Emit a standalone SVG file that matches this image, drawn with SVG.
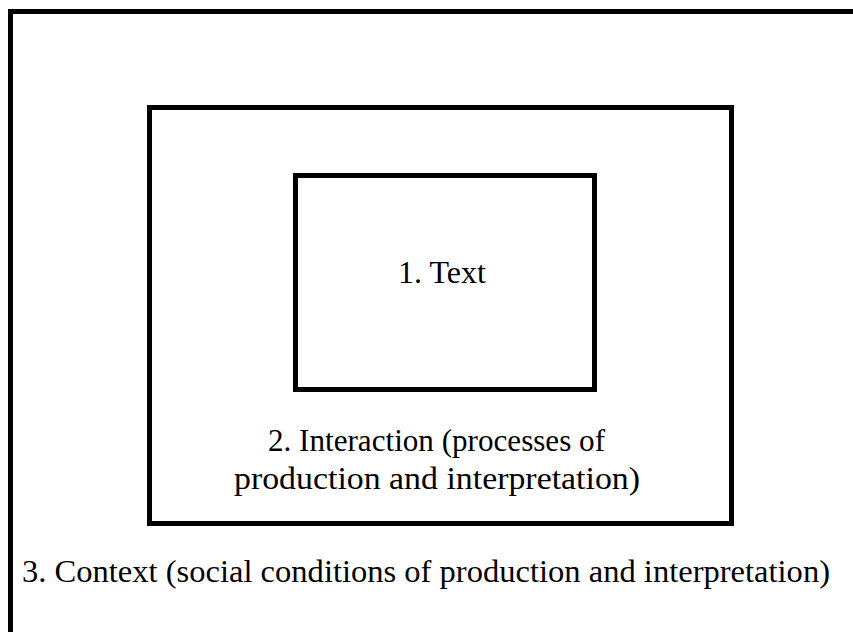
<svg xmlns="http://www.w3.org/2000/svg" width="853" height="632" viewBox="0 0 853 632">
<style>
.box{fill:none;stroke:#000;stroke-width:5}
.t{font-family:"Liberation Serif","Times New Roman",serif;font-size:32px;fill:#000;text-anchor:middle}
</style>
<rect width="853" height="632" fill="#fff"/>
<g id="context">
<path class="box" d="M10.5,632 V11.5 H853"/>
<text class="t" x="426" y="582" textLength="808" lengthAdjust="spacingAndGlyphs">3. Context (social conditions of production and interpretation)</text>
</g>
<g id="interaction">
<rect class="box" x="149.5" y="107.5" width="582" height="416"/>
<text class="t" x="436.5" y="451" textLength="337" lengthAdjust="spacingAndGlyphs">2. Interaction (processes of</text>
<text class="t" x="437" y="489" textLength="406" lengthAdjust="spacingAndGlyphs">production and interpretation)</text>
</g>
<g id="text">
<rect class="box" x="295.5" y="175.5" width="299" height="214"/>
<text class="t" x="442" y="283">1. Text</text>
</g>
<g id="connectors"></g>
</svg>
